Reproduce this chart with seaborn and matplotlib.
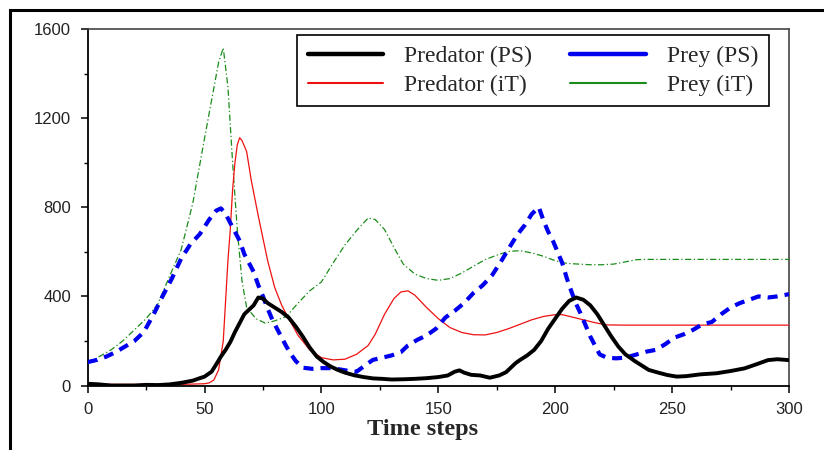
import matplotlib
matplotlib.use("Agg")
import matplotlib.pyplot as plt
from matplotlib.lines import Line2D
from matplotlib.patches import Rectangle
from matplotlib.ticker import MultipleLocator
import seaborn as sns
import pandas as pd

# ---------------- data ----------------
t_pred_ps = [0, 5, 10, 20, 25, 30, 35, 40, 45, 48, 50, 53, 55, 57, 59, 61, 63, 65, 67, 69, 71, 73, 75, 77,
             80, 83, 86, 89, 92, 95, 98, 101, 104, 107, 110, 114, 118, 122, 126, 130, 135, 140, 145, 150,
             154, 157, 159, 161, 164, 168, 172, 176, 179, 183, 185, 188, 191, 194, 197, 200, 203, 206, 209,
             212, 215, 218, 221, 224, 227, 230, 234, 237, 240, 244, 248, 252, 256, 262, 269, 275, 281, 286,
             291, 295, 300]
v_pred_ps = [8, 5, 0, 0, 3, 2, 5, 12, 22, 33, 40, 62, 95, 130, 160, 195, 240, 280, 320, 340, 360, 395, 390, 370,
             350, 330, 305, 265, 220, 170, 130, 105, 85, 70, 58, 46, 38, 32, 30, 27, 28, 30, 33, 38,
             45, 62, 68, 58, 48, 45, 35, 45, 60, 100, 115, 135, 160, 200, 255, 300, 345, 380, 395,
             385, 360, 320, 270, 220, 175, 140, 110, 90, 70, 58, 47, 40, 42, 50, 55, 65, 77, 95,
             114, 118, 114]

t_prey_ps = [0, 4, 8, 12, 16, 20, 24, 28, 32, 36, 40, 44, 48, 52, 55, 57, 59, 61, 63, 65, 67, 69, 71, 73, 75,
             77, 79, 81, 83, 85, 87, 89, 92, 96, 100, 104, 108, 112, 115, 118, 122, 126, 130, 134, 137, 141,
             145, 149, 153, 157, 161, 165, 169, 173, 177, 181, 184, 187, 190, 193, 195, 197, 199, 201, 203,
             205, 207, 209, 211, 213, 215, 217, 219, 222, 226, 230, 235, 239, 243, 247, 251, 255, 259, 263,
             267, 271, 275, 279, 283, 287, 291, 295, 300]
v_prey_ps = [105, 115, 130, 150, 175, 200, 240, 315, 400, 480, 570, 635, 680, 745, 785, 795, 770, 730, 690, 650,
             590, 550, 510, 450, 400, 345, 295, 255, 215, 175, 140, 110, 80, 75, 78, 78, 72, 65, 62, 85, 115,
             125, 135, 150, 180, 205, 225, 255, 305, 335, 370, 415, 450, 495, 560, 630, 680, 720, 770, 800,
             740, 690, 650, 600, 550, 480, 420, 365, 320, 270, 220, 180, 140, 125, 122, 125, 140, 152, 160,
             185, 215, 230, 250, 275, 285, 320, 350, 370, 385, 400, 395, 400, 410]

t_pred_it = [0, 10, 20, 30, 40, 50, 52, 54, 56, 58, 60, 61, 62, 63, 64, 65, 66, 68, 70, 73, 77, 80, 83, 86, 90,
             95, 100, 105, 110, 115, 120, 123, 127, 131, 134, 137, 140, 145, 150, 155, 160, 165, 170, 175,
             180, 185, 190, 195, 200, 203, 207, 212, 217, 222, 230, 260, 300]
v_pred_it = [10, 5, 5, 5, 5, 8, 12, 25, 70, 200, 560, 700, 880, 1000, 1080, 1112, 1100, 1050, 920, 760, 560,
             440, 360, 300, 225, 160, 125, 115, 118, 140, 180, 230, 320, 390, 420, 425, 405, 350, 300, 260,
             238, 228, 227, 238, 255, 275, 295, 310, 318, 318, 308, 295, 282, 272, 271, 271, 271]

t_prey_it = [0, 5, 10, 15, 20, 25, 30, 35, 40, 45, 50, 53, 56, 58, 60, 62, 64, 66, 68, 72, 76, 80, 85, 90, 95,
             100, 105, 110, 115, 120, 123, 127, 131, 135, 140, 145, 150, 155, 160, 165, 170, 175, 180, 185,
             190, 195, 200, 205, 210, 215, 220, 225, 230, 235, 240, 260, 280, 300]
v_prey_it = [100, 130, 160, 200, 250, 300, 365, 490, 610, 820, 1110, 1280, 1450, 1515, 1340, 1000, 700, 470,
             350, 300, 280, 290, 310, 370, 425, 465, 550, 630, 695, 752, 745, 700, 620, 545, 500, 480, 472,
             480, 505, 535, 565, 585, 602, 605, 595, 580, 560, 548, 545, 542, 542, 545, 555, 565, 566, 566,
             566, 566]

labels = ["Predator (PS)", "Prey (PS)", "Predator (iT)", "Prey (iT)"]
x_ticks = [0, 50, 100, 150, 200, 250, 300]
y_ticks = [0, 400, 800, 1200, 1600]

# ---------------- styling ----------------
sns.set_style("ticks")
plt.rcParams["font.family"] = ["Liberation Sans", "DejaVu Sans"]

fig = plt.figure(figsize=(8.24, 4.5), dpi=100)
ax = fig.add_axes([0.1064, 0.1433, 0.8511, 0.7922])

series = [
    (t_pred_ps, v_pred_ps, labels[0], "black", 2.8, "-"),
    (t_prey_ps, v_prey_ps, labels[1], "#0000ee", 3.0, (0, (2.4, 1.7))),
    (t_pred_it, v_pred_it, labels[2], "#ee1111", 0.9, "-"),
    (t_prey_it, v_prey_it, labels[3], "#1a8c1a", 0.9, (0, (5, 2, 1, 2))),
]
order = [3, 2, 1, 0]
for i in order:
    t, v, lab, col, lw, ls = series[i]
    df = pd.DataFrame({"t": t, "v": v})
    sns.lineplot(data=df, x="t", y="v", ax=ax, color=col, linewidth=lw,
                 linestyle=ls, estimator=None, sort=True, legend=False, zorder=3 + (3 - i))

ax.set_xlim(0, 300)
ax.set_ylim(0, 1600)
ax.set_xticks(x_ticks)
ax.set_yticks(y_ticks)
ax.xaxis.set_minor_locator(MultipleLocator(25))
ax.yaxis.set_minor_locator(MultipleLocator(200))
ax.tick_params(axis="both", which="major", direction="out", length=5, width=1.1,
               color="black", labelsize=12, pad=7, labelcolor="#222222")
ax.tick_params(axis="both", which="minor", direction="out", length=3, width=1.0, color="black")
ax.tick_params(axis="x", which="both", top=False)
ax.tick_params(axis="y", which="both", right=False)

for s in ["left", "bottom"]:
    ax.spines[s].set_color("black")
    ax.spines[s].set_linewidth(1.3)
for s in ["top", "right"]:
    ax.spines[s].set_color("#444444")
    ax.spines[s].set_linewidth(1.2)

ax.set_ylabel("")
ax.set_xlabel("Time steps", fontsize=17.5, fontweight="bold",
              family=["Liberation Serif", "DejaVu Serif"], labelpad=2)
ax.xaxis.set_label_coords(0.477, -0.095)

handles = [Line2D([0], [0], color=series[i][3], lw=(3.2 if series[i][4] > 2 else 1.5))
           for i in range(4)]
leg_order = [0, 2, 1, 3]
leg = ax.legend([handles[i] for i in leg_order], [labels[i] for i in leg_order],
                ncol=2, loc="upper left", bbox_to_anchor=(297 / 824, 1 - 35 / 450),
                bbox_transform=fig.transFigure, borderaxespad=0, frameon=True, fancybox=False,
                edgecolor="black", framealpha=1, handlelength=3.2, handletextpad=0.9,
                columnspacing=1.6, labelspacing=0.3, borderpad=0.45,
                prop={"family": ["Liberation Serif", "DejaVu Serif"], "size": 17})
leg.get_frame().set_linewidth(1.2)

# outer frame (top and left edges visible)
fig.add_artist(Rectangle((10 / 824, -0.5), 3.0, 1.5 - 10 / 450, transform=fig.transFigure,
                         fill=False, edgecolor="black", linewidth=2.2, clip_on=False))

fig.savefig("out.png", dpi=100)
